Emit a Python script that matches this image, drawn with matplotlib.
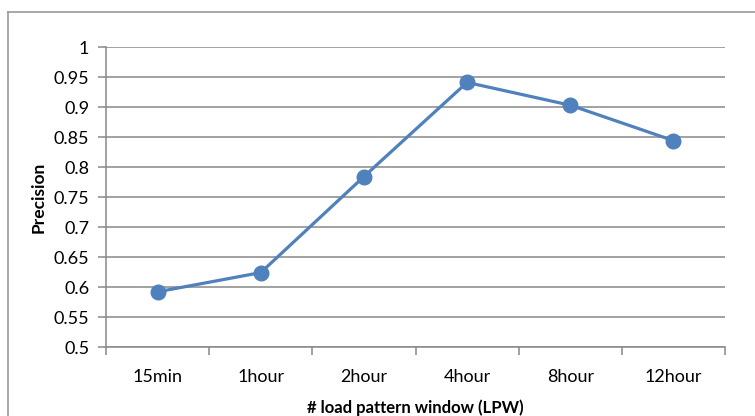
import matplotlib
matplotlib.use("Agg")
import matplotlib.pyplot as plt
from matplotlib.lines import Line2D

# precision per load pattern window size
windows = ["15min", "1hour", "2hour", "4hour", "8hour", "12hour"]
precision = [0.592, 0.624, 0.784, 0.941, 0.903, 0.844]
y_ticks = [0.5, 0.55, 0.6, 0.65, 0.7, 0.75, 0.8, 0.85, 0.9, 0.95, 1]
y_tick_labels = ["0.5", "0.55", "0.6", "0.65", "0.7", "0.75", "0.8", "0.85", "0.9", "0.95", "1"]

plt.rcParams["font.family"] = ["Lato", "DejaVu Sans"]

fig = plt.figure(figsize=(7.55, 4.16), dpi=100)
W, H = 755, 416
ax = fig.add_axes([106 / W, 1 - 347 / H, (725 - 106) / W, (347 - 47) / H])

x = list(range(len(windows)))
ax.plot(x, precision, color="#4F81BD", lw=2.3, marker="o", ms=10.5,
        markeredgecolor="#4F81BD", zorder=3)

ax.set_xlim(-0.5, len(windows) - 0.5)
ax.set_ylim(0.5, 1)
ax.set_yticks(y_ticks)
ax.set_yticklabels(y_tick_labels)
ax.set_xticks(x)
ax.set_xticklabels(windows)
ax.set_xticks([i - 0.5 for i in range(len(windows) + 1)], minor=True)

ax.grid(axis="y", color="#888888", lw=1.1)
ax.set_axisbelow(True)
for side in ["top", "right"]:
    ax.spines[side].set_visible(False)
for side in ["left", "bottom"]:
    ax.spines[side].set_color("#888888")
    ax.spines[side].set_linewidth(1.1)

ax.tick_params(axis="y", length=6, width=1.1, color="#888888", labelsize=13, pad=6)
ax.tick_params(axis="x", which="major", length=0, labelsize=13, pad=16)
ax.tick_params(axis="x", which="minor", length=6, width=1.1, color="#888888")

ax.set_xlabel("# load pattern window (LPW)", fontsize=12, fontweight="bold", labelpad=10)
ax.set_ylabel("Precision", fontsize=12.5, fontweight="bold", labelpad=5)

# chart area frame (left and top edges)
fig.add_artist(Line2D([8 / W, 8 / W], [0, 1 - 12 / H], color="#999999", lw=1.2))
fig.add_artist(Line2D([8 / W, 1], [1 - 12 / H, 1 - 12 / H], color="#999999", lw=1.2))

fig.savefig("out.png", dpi=100)
